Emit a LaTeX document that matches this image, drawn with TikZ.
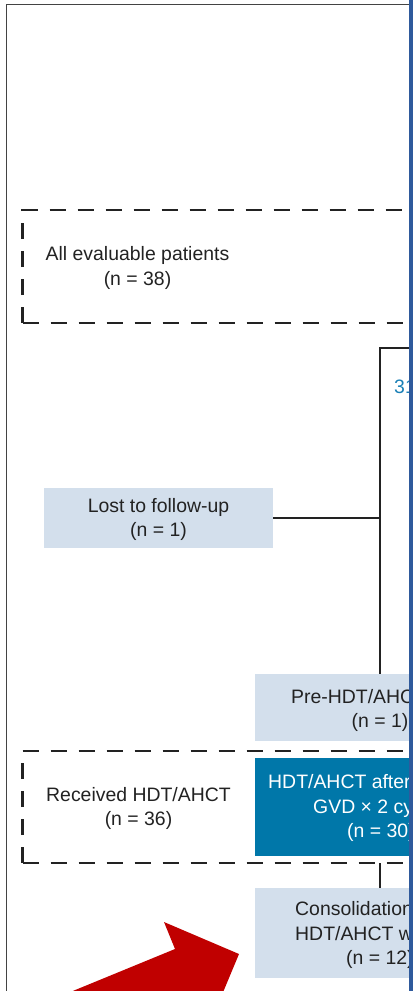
\documentclass[tikz,border=0pt]{standalone}
\usepackage{fontspec}
\setmainfont{Liberation Sans}
\definecolor{paleblue}{HTML}{D3DFEC}
\definecolor{deepblue}{HTML}{0077A9}
\definecolor{barblue}{HTML}{2F5A9C}
\definecolor{tealtext}{HTML}{1A80B6}
\definecolor{arrowred}{HTML}{C00000}
\definecolor{ink}{HTML}{222222}

\begin{document}
\begin{tikzpicture}[x=1bp,y=-1bp,
  txt/.style={font=\fontsize{19.5}{24}\selectfont, text=ink, inner sep=0pt},
  wtxt/.style={txt, text=white},
  flowline/.style={draw=ink, line width=2.2bp},
  dashbox/.style={draw=ink, line width=2.3bp, dash pattern=on 16bp off 12bp},
  palebox/.style={fill=paleblue, draw=none, inner sep=0pt},
  deepbox/.style={fill=deepblue, draw=none, inner sep=0pt},
]
\useasboundingbox (0,0) rectangle (413,991);

\begin{scope}
  \clip (0,0) rectangle (409,991);

  % outer frame
  \draw[line width=1.6bp, draw=ink!85] (6.5,1000) -- (6.5,4.5) -- (420,4.5);

  % dashed group boxes
  \coordinate (allcorner) at (22.5,323);
  \draw[dashbox] (allcorner) -- (22.5,210) -- (440,210);
  \draw[dashbox] (allcorner) -- (440,323);
  \node[txt, anchor=base] (alltitle) at (137.5,260) {All evaluable patients};
  \node[txt, anchor=base] (alln) at (137.5,285) {(n = 38)};

  \coordinate (recvcorner) at (22.5,863);
  \draw[dashbox] (recvcorner) -- (22.5,751) -- (440,751);
  \draw[dashbox] (recvcorner) -- (440,863);
  \node[txt, anchor=base] (recvtitle) at (138.5,801) {Received HDT/AHCT};
  \node[txt, anchor=base] (recvn) at (138.5,825) {(n = 36)};

  % boxes
  \node[palebox, minimum width=229bp, minimum height=60bp] (lost) at (158.5,518) {};
  \node[palebox, minimum width=254bp, minimum height=67bp] (pre) at (382,707.5) {};
  \node[deepbox, minimum width=254bp, minimum height=98bp] (after) at (382,807) {};
  \node[palebox, minimum width=254bp, minimum height=90bp] (consol) at (382,933) {};

  % box texts
  \node[txt, anchor=base] (losttitle) at (158.5,512) {Lost to follow-up};
  \node[txt, anchor=base] (lostn) at (158.5,536) {(n = 1)};

  \node[txt, anchor=base west] (pretitle) at (291,703) {Pre-HDT/AHCT};
  \node[txt, anchor=base west] (pren) at (351.5,727) {(n = 1)};

  \node[wtxt, anchor=base west] (aftertitle) at (268,788) {HDT/AHCT after};
  \node[wtxt, anchor=base west] (aftercycles) at (313,813) {GVD × 2 cycles};
  \node[wtxt, anchor=base west] (aftern) at (347,837) {(n = 30)};

  \node[txt, anchor=base west] (consoltitle) at (295,915) {Consolidation};
  \node[txt, anchor=base west] (consolwith) at (295,940) {HDT/AHCT with};
  \node[txt, anchor=base west] (consoln) at (346,964) {(n = 12)};

  \node[txt, text=tealtext, anchor=base west] (armcount) at (394,393) {31};

  % connectors
  \coordinate (trunktop) at (380,348);
  \coordinate (armright) at (430,348);
  \draw[flowline] (armright) -- (trunktop) -- (trunktop |- pre.north);
  \draw[flowline] (lost.east) -- (lost.east -| trunktop);
  \draw[flowline] (trunktop |- recvcorner) -- (trunktop |- consol.north);

  % red pointer arrow
  \fill[arrowred] (-10,1025) -- (175,949) -- (164,922) -- (239,954)
    -- (207.7,1029) -- (196.7,1002) -- (11.5,1077.6) -- cycle;
\end{scope}

% blue edge bar
\fill[barblue] (409,0) rectangle (413,991);
\end{tikzpicture}
\end{document}
